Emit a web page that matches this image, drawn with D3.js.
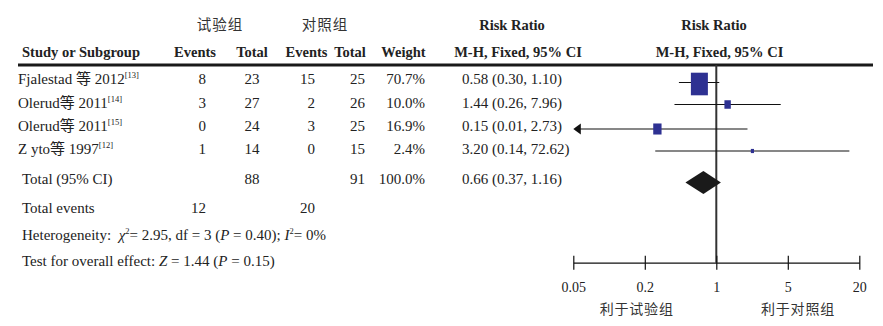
<!DOCTYPE html>
<html><head><meta charset="utf-8">
<script src="https://cdn.jsdelivr.net/npm/d3@7/dist/d3.min.js"></script>
<style>
html,body{margin:0;padding:0;background:#fff;}
svg{display:block;}
text{font-family:"Liberation Serif","Noto Sans CJK SC",serif;fill:#222;white-space:pre;}
.cjk{font-family:"Noto Sans CJK SC",sans-serif;fill:#333;}
.b{font-weight:bold;}
</style></head>
<body>
<svg id="c" width="883" height="326"></svg>
<script>
// ---- data ----
const studies = ["Fjalestad 等 2012", "Olerud等 2011", "Olerud等 2011", "Z yto等 1997"];
const refs = ["[13]", "[14]", "[15]", "[12]"];
const expEvents = [8, 3, 0, 1];
const expTotal = [23, 27, 24, 14];
const ctrlEvents = [15, 2, 3, 0];
const ctrlTotal = [25, 26, 25, 15];
const weights = [70.7, 10.0, 16.9, 2.4];
const rr = [0.58, 1.44, 0.15, 3.20];
const rrLow = [0.30, 0.26, 0.01, 0.14];
const rrHigh = [1.10, 7.96, 2.73, 72.62];
const pooled = [0.66, 0.37, 1.16];
const totalN = [88, 91];
const totalEvents = [12, 20];
const tickValues = [0.01, 0.1, 1, 10, 100];
const tickLabels = ["0.05", "0.2", "1", "5", "20"];
const groupLabels = ["试验组", "对照组"];
const favourLabels = ["利于试验组", "利于对照组"];

const svg = d3.select("#c");
const x = d3.scaleLog().domain([0.01, 100]).range([573.3, 859.3]);
const size = d3.scaleSqrt().domain([0, 70.7]).range([0, 17]);
const rowY = [79, 103, 126, 149];
const markY = [84, 104.5, 129, 151];
const fmt2 = d3.format(".2f");

function t(xp, yp, str, anchor, cls) {
  return svg.append("text").attr("x", xp).attr("y", yp).attr("dy", "0.35em")
    .attr("text-anchor", anchor || "start").attr("class", cls || "")
    .style("font-size", "15px").text(str);
}
function sup(sel, str) {
  sel.append("tspan").attr("dy", -6).style("font-size", "8.5px").text(str);
  return sel;
}
function unsup(sel) { return sel.append("tspan").attr("dy", 6); }

// headers
t(220, 25, groupLabels[0], "middle", "cjk").style("font-size", "14.5px").style("letter-spacing", "1px");
t(325, 25, groupLabels[1], "middle", "cjk").style("font-size", "14.5px").style("letter-spacing", "1px");
t(512, 25, "Risk Ratio", "middle", "b").style("font-size", "14.5px");
t(714, 25, "Risk Ratio", "middle", "b").style("font-size", "14.5px");
const h2 = [[22, "Study or Subgroup", "start"], [195, "Events", "middle"], [252, "Total", "middle"],
  [306.5, "Events", "middle"], [350, "Total", "middle"], [403.5, "Weight", "middle"],
  [518, "M-H, Fixed, 95% CI", "middle"], [719.5, "M-H, Fixed, 95% CI", "middle"]];
h2.forEach(h => t(h[0], 52, h[1], h[2], "b").style("font-size", "14.5px"));

svg.append("line").attr("x1", 18).attr("x2", 873).attr("y1", 65).attr("y2", 65)
  .attr("stroke", "#1a1a1a").attr("stroke-width", 3);

// study rows
studies.forEach((s, i) => {
  const tx = t(18, rowY[i], s);
  sup(tx, refs[i]);
  t(206, rowY[i], expEvents[i], "end");
  t(259.5, rowY[i], expTotal[i], "end");
  t(315, rowY[i], ctrlEvents[i], "end");
  t(365, rowY[i], ctrlTotal[i], "end");
  t(425, rowY[i], weights[i].toFixed(1) + "%", "end");
  t(462, rowY[i], `${fmt2(rr[i])} (${fmt2(rrLow[i])}, ${fmt2(rrHigh[i])})`);
});

// totals
t(22, 179, "Total (95% CI)");
t(259.5, 179, totalN[0], "end");
t(365, 179, totalN[1], "end");
t(425, 179, "100.0%", "end");
t(462, 179, `${fmt2(pooled[0])} (${fmt2(pooled[1])}, ${fmt2(pooled[2])})`);
t(22, 208, "Total events");
t(206, 208, totalEvents[0], "end");
t(315, 208, totalEvents[1], "end");

const het = t(22, 235, "Heterogeneity:  ");
het.append("tspan").style("font-style", "italic").text("χ");
sup(het, "2");
unsup(het).text("= 2.95, df = 3 (");
het.append("tspan").style("font-style", "italic").text("P");
het.append("tspan").text(" = 0.40); ");
het.append("tspan").style("font-style", "italic").text("I");
sup(het, "2");
unsup(het).text("= 0%");

const tst = t(22, 261, "Test for overall effect: ");
tst.append("tspan").style("font-style", "italic").text("Z");
tst.append("tspan").text(" = 1.44 (");
tst.append("tspan").style("font-style", "italic").text("P");
tst.append("tspan").text(" = 0.15)");

// forest plot
const axisY = 262.7;
svg.append("line").attr("x1", x(1)).attr("x2", x(1)).attr("y1", 65).attr("y2", axisY)
  .attr("stroke", "#333").attr("stroke-width", 2);

rr.forEach((v, i) => {
  const lo = Math.max(rrLow[i], x.domain()[0]);
  const hi = Math.min(rrHigh[i], x.domain()[1]);
  const yy = markY[i] - (i === 0 ? 1.5 : 0);
  const arrowL = rrLow[i] <= x.domain()[0];
  svg.append("line").attr("x1", x(lo) + (arrowL ? 6 : 0)).attr("x2", x(hi))
    .attr("y1", yy).attr("y2", yy).attr("stroke", "#111").attr("stroke-width", 1.2);
  if (arrowL) {
    const ax = x(lo);
    svg.append("path").attr("d", `M${ax},${yy} L${ax + 7.5},${yy - 5.5} L${ax + 7.5},${yy + 5.5} Z`)
      .attr("fill", "#111");
  }
  const w = size(weights[i]), h = w * 1.33;
  svg.append("rect").attr("x", x(v) - w / 2).attr("y", markY[i] - h / 2)
    .attr("width", w).attr("height", h).attr("fill", "#2e3192");
});

const dY = 182.5, dH = 11.5;
svg.append("path")
  .attr("d", `M${x(pooled[1])},${dY} L${x(pooled[0])},${dY - dH} L${x(pooled[2])},${dY} L${x(pooled[0])},${dY + dH} Z`)
  .attr("fill", "#1a1a1a");

// axis
const axis = d3.axisBottom(x).tickValues(tickValues).tickFormat((d, i) => tickLabels[i]).tickSizeOuter(0);
const ag = svg.append("g").attr("transform", `translate(0,${axisY})`).call(axis);
ag.select(".domain").attr("stroke", "#111").attr("stroke-width", 1.2);
ag.selectAll(".tick line").attr("y1", -7).attr("y2", 7).attr("stroke", "#111").attr("stroke-width", 1.2);
ag.selectAll(".tick text").attr("y", 24).attr("dy", "0.35em")
  .style("font-family", '"Liberation Serif",serif').style("font-size", "14px").attr("fill", "#333");

t(636.7, 309, favourLabels[0], "middle", "cjk").style("font-size", "14px").style("letter-spacing", "0.8px");
t(798, 309, favourLabels[1], "middle", "cjk").style("font-size", "14px").style("letter-spacing", "0.8px");
</script>
</body></html>
